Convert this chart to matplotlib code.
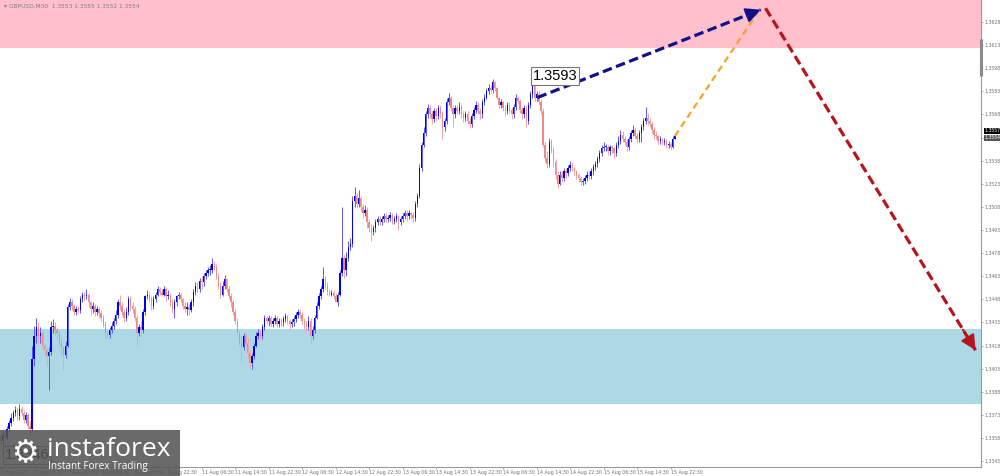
import numpy as np
import matplotlib
matplotlib.use("Agg")
import matplotlib.pyplot as plt
from matplotlib.patches import Rectangle
from matplotlib.transforms import blended_transform_factory

# GBPUSD M30 candles, prices written in pips: 3348 -> 1.3348
first_open_pips = 3359
close_pips = [
    3356, 3360, 3358, 3364, 3368, 3371, 3374, 3376, 3372, 3377, 3374, 3370, 3373, 3366, 3364,
    3409, 3424, 3430, 3424, 3426, 3418, 3415, 3411, 3414, 3430, 3431, 3428, 3426, 3420, 3417, 3412, 3418,
    3443, 3446, 3444, 3440, 3442, 3441, 3448, 3451, 3450, 3451, 3446, 3442, 3444, 3440, 3442, 3439,
    3436, 3432, 3426, 3425, 3428, 3431, 3434, 3438, 3446, 3444, 3440, 3436, 3440, 3448, 3444, 3442,
    3436, 3426, 3430, 3428, 3440, 3450, 3451, 3448, 3444, 3448, 3451, 3455, 3453, 3451, 3455, 3450,
    3451, 3446, 3442, 3446, 3450, 3451, 3448, 3444, 3442, 3443, 3441, 3446, 3453, 3457, 3455, 3460,
    3459, 3463, 3465, 3467, 3467, 3471, 3469, 3463, 3457, 3451, 3457, 3461, 3455, 3450, 3446, 3440,
    3434, 3426, 3420, 3417, 3424, 3420, 3413, 3407, 3411, 3418, 3424, 3426, 3424, 3430, 3436, 3434,
    3436, 3432, 3434, 3436, 3432, 3434, 3433, 3435, 3437, 3434, 3432, 3433, 3435, 3438, 3440, 3438,
    3434, 3432, 3430, 3434, 3424, 3428, 3436, 3444, 3450, 3455, 3461, 3457, 3453, 3451, 3452, 3450,
    3446, 3451, 3465, 3475, 3467, 3475, 3482, 3484, 3512, 3515, 3510, 3514, 3508, 3504, 3506, 3498,
    3494, 3492, 3494, 3498, 3500, 3498, 3500, 3502, 3500, 3501, 3503, 3499, 3500, 3502, 3498, 3500,
    3502, 3504, 3502, 3504, 3503, 3501,
    3510, 3515, 3533, 3548, 3556, 3568, 3572, 3568, 3565, 3570, 3567, 3572, 3568, 3560, 3564, 3576,
    3579, 3572, 3568, 3572, 3570, 3573, 3568, 3566, 3568, 3564, 3562, 3567, 3571, 3574, 3570, 3568,
    3576, 3579, 3583, 3585, 3584, 3589, 3585, 3579, 3574, 3576, 3572, 3570, 3574, 3571, 3568, 3573,
    3579, 3577, 3571, 3568, 3572, 3564, 3574, 3581, 3587, 3579, 3581, 3576, 3570, 3548, 3540, 3536,
    3550, 3545, 3537, 3529, 3523, 3529, 3527, 3531, 3530, 3533, 3535, 3533, 3531, 3529, 3527, 3524,
    3525, 3527, 3529, 3528, 3531, 3534, 3536, 3539, 3543, 3546, 3547, 3547, 3544, 3547, 3546, 3543,
    3548, 3551, 3555, 3552, 3550, 3547, 3552, 3556, 3558, 3554, 3552, 3556, 3560, 3564, 3566, 3564,
    3562, 3558, 3555, 3554, 3551, 3552, 3550, 3551, 3548, 3549, 3547, 3552, 3554,
]
high_pips = [
    3361, 3362, 3363, 3366, 3370, 3374, 3376, 3379, 3378, 3380, 3379, 3376, 3375, 3374, 3369,
    3418, 3431, 3436, 3433, 3430, 3428, 3420, 3417, 3417, 3434, 3435, 3433, 3430, 3428, 3422, 3418, 3421,
    3445, 3449, 3448, 3445, 3444, 3444, 3450, 3453, 3453, 3455, 3452, 3447, 3446, 3445, 3444, 3443,
    3441, 3438, 3434, 3429, 3430, 3433, 3436, 3441, 3448, 3451, 3446, 3442, 3443, 3450, 3450, 3446,
    3444, 3438, 3432, 3434, 3442, 3451, 3454, 3453, 3450, 3450, 3453, 3457, 3456, 3455, 3457, 3456,
    3454, 3452, 3448, 3448, 3451, 3453, 3452, 3449, 3446, 3446, 3445, 3448, 3455, 3459, 3459, 3462,
    3463, 3465, 3467, 3469, 3470, 3475, 3473, 3471, 3465, 3459, 3460, 3464, 3462, 3457, 3452, 3448,
    3442, 3436, 3429, 3424, 3426, 3426, 3423, 3415, 3413, 3420, 3427, 3429, 3428, 3432, 3438, 3437,
    3438, 3437, 3436, 3438, 3437, 3436, 3436, 3437, 3439, 3438, 3435, 3435, 3437, 3440, 3442, 3442,
    3440, 3436, 3434, 3437, 3436, 3431, 3438, 3446, 3452, 3457, 3469, 3463, 3459, 3455, 3454, 3454,
    3452, 3453, 3467, 3508, 3477, 3479, 3486, 3488, 3515, 3521, 3517, 3519, 3515, 3510, 3509, 3508,
    3500, 3497, 3496, 3500, 3502, 3502, 3502, 3504, 3504, 3503, 3505, 3504, 3502, 3504, 3503, 3502,
    3504, 3506, 3506, 3506, 3505, 3505,
    3512, 3517, 3536, 3550, 3560, 3570, 3575, 3574, 3570, 3572, 3572, 3574, 3574, 3570, 3566, 3579,
    3582, 3580, 3574, 3574, 3574, 3576, 3575, 3570, 3570, 3570, 3566, 3569, 3573, 3577, 3576, 3572,
    3578, 3581, 3585, 3588, 3587, 3591, 3590, 3586, 3580, 3578, 3577, 3574, 3576, 3576, 3572, 3575,
    3581, 3580, 3578, 3573, 3574, 3574, 3576, 3583, 3593, 3589, 3583, 3583, 3578, 3572, 3550, 3544,
    3553, 3552, 3547, 3539, 3531, 3531, 3531, 3533, 3533, 3535, 3538, 3537, 3534, 3532, 3530, 3528,
    3527, 3529, 3531, 3531, 3533, 3536, 3538, 3541, 3545, 3548, 3550, 3549, 3548, 3548, 3548, 3547,
    3550, 3554, 3558, 3557, 3554, 3552, 3554, 3558, 3561, 3560, 3556, 3558, 3562, 3566, 3573, 3569,
    3566, 3564, 3560, 3557, 3555, 3554, 3553, 3553, 3552, 3551, 3550, 3554, 3555,
]
low_pips = [
    3354, 3346, 3356, 3357, 3362, 3366, 3369, 3372, 3370, 3370, 3372, 3368, 3368, 3364, 3360,
    3362, 3405, 3420, 3420, 3420, 3415, 3411, 3405, 3389, 3412, 3426, 3424, 3422, 3417, 3411, 3402, 3410,
    3417, 3441, 3441, 3438, 3438, 3439, 3439, 3446, 3447, 3448, 3443, 3438, 3439, 3437, 3438, 3436,
    3434, 3430, 3423, 3422, 3423, 3426, 3429, 3432, 3436, 3441, 3438, 3433, 3434, 3438, 3441, 3439,
    3434, 3418, 3424, 3424, 3426, 3438, 3448, 3446, 3441, 3442, 3446, 3450, 3451, 3450, 3450, 3447,
    3448, 3444, 3439, 3436, 3444, 3448, 3446, 3442, 3440, 3438, 3438, 3440, 3444, 3451, 3453, 3453,
    3455, 3457, 3461, 3463, 3464, 3465, 3467, 3461, 3455, 3449, 3450, 3455, 3453, 3448, 3443, 3438,
    3432, 3424, 3418, 3408, 3415, 3418, 3410, 3404, 3403, 3409, 3417, 3422, 3421, 3422, 3428, 3432,
    3431, 3430, 3430, 3432, 3430, 3430, 3431, 3431, 3433, 3432, 3428, 3430, 3431, 3433, 3436, 3436,
    3432, 3429, 3426, 3428, 3420, 3422, 3426, 3435, 3442, 3448, 3453, 3455, 3451, 3450, 3450, 3448,
    3446, 3444, 3450, 3463, 3462, 3463, 3473, 3480, 3482, 3508, 3507, 3508, 3505, 3501, 3502, 3494,
    3492, 3486, 3490, 3492, 3496, 3496, 3496, 3498, 3498, 3498, 3499, 3497, 3497, 3498, 3493, 3496,
    3498, 3500, 3499, 3500, 3500, 3498,
    3499, 3508, 3514, 3531, 3547, 3554, 3566, 3566, 3562, 3563, 3564, 3565, 3566, 3552, 3557, 3562,
    3574, 3570, 3560, 3566, 3568, 3568, 3566, 3563, 3564, 3562, 3559, 3560, 3565, 3569, 3568, 3565,
    3566, 3574, 3578, 3581, 3582, 3582, 3583, 3578, 3572, 3572, 3570, 3567, 3568, 3569, 3565, 3566,
    3571, 3575, 3569, 3565, 3566, 3560, 3562, 3572, 3579, 3577, 3577, 3574, 3568, 3547, 3537, 3533,
    3534, 3543, 3534, 3526, 3520, 3522, 3524, 3525, 3527, 3528, 3531, 3531, 3529, 3526, 3524, 3522,
    3522, 3523, 3525, 3526, 3526, 3529, 3532, 3534, 3537, 3541, 3544, 3544, 3542, 3542, 3543, 3540,
    3541, 3546, 3549, 3550, 3548, 3544, 3545, 3550, 3554, 3552, 3550, 3550, 3550, 3558, 3562, 3561,
    3560, 3556, 3552, 3552, 3549, 3549, 3548, 3548, 3546, 3546, 3545, 3546, 3552,
]

time_labels = ["7 Aug 2025", "7 Aug 14:30", "7 Aug 22:30", "8 Aug 06:30", "8 Aug 14:30",
               "8 Aug 22:30", "11 Aug 06:30", "11 Aug 14:30", "11 Aug 22:30", "12 Aug 06:30",
               "12 Aug 14:30", "12 Aug 22:30", "13 Aug 06:30", "13 Aug 14:30", "13 Aug 22:30",
               "14 Aug 06:30", "14 Aug 14:30", "14 Aug 22:30", "15 Aug 06:30", "15 Aug 14:30",
               "15 Aug 22:30"]
bars_per_label = 16

resistance_zone = [1.3611, 1.3660]
support_zone = [1.3380, 1.3429]

# expected wave path, (bar index, price)
wave_up_x, wave_up_y = [256.4, 363.0], [1.3579, 1.3636]
wave_link_x, wave_link_y = [322.0, 361.5], [1.3554, 1.3634]
wave_down_x, wave_down_y = [365.3, 465.6], [1.3637, 1.3415]

high_mark = (254.3, 1.3593)
low_mark = (2.0, 1.3347)
header = "GBPUSD,M30  1.3553 1.3555 1.3552 1.3554"
ask_price, bid_price = 1.3557, 1.3554

closes = 1 + np.array(close_pips) / 10000
highs = 1 + np.array(high_pips) / 10000
lows = 1 + np.array(low_pips) / 10000
opens = np.concatenate([[1 + first_open_pips / 10000], closes[:-1]])
highs = np.maximum(highs, np.maximum(opens, closes))
lows = np.minimum(lows, np.minimum(opens, closes))
idx = np.arange(len(closes))

fig = plt.figure(figsize=(10, 4.76), dpi=100)
ax = fig.add_axes([0, 9 / 476, 0.981, 467 / 476])
ax.set_xlim(-0.3, 468.2)
ax.set_ylim(1.33392, 1.36423)

ax.axhspan(resistance_zone[0], resistance_zone[1], color='pink', lw=0, zorder=0)
ax.axhspan(support_zone[0], support_zone[1], color='lightblue', lw=0, zorder=0)

up = closes >= opens
dn = ~up
body_lo = np.minimum(opens, closes)
body_h = np.maximum(np.abs(closes - opens), 0.00005)
ax.vlines(idx[up], lows[up], highs[up], color='#5a5aff', lw=0.7, zorder=2)
ax.vlines(idx[dn], lows[dn], highs[dn], color='#f4a3a3', lw=0.7, zorder=2)
ax.bar(idx[up], body_h[up], bottom=body_lo[up], width=0.65, color='#0000ee', lw=0, zorder=3)
ax.bar(idx[dn], body_h[dn], bottom=body_lo[dn], width=0.65, color='#f08888', lw=0, zorder=3)

# forecast arrows
ax.plot(wave_link_x, wave_link_y, color='#f7a12b', lw=1.6, dashes=(3, 2), zorder=4)
for wx, wy, col in [(wave_up_x, wave_up_y, '#10108a'), (wave_down_x, wave_down_y, '#b5161b')]:
    ax.plot(wx, wy, color=col, lw=2.3, dashes=(3, 1.4), zorder=5)
    tail = (wx[0] + 0.94 * (wx[1] - wx[0]), wy[0] + 0.94 * (wy[1] - wy[0]))
    ax.annotate('', xy=(wx[1], wy[1]), xytext=tail, zorder=6,
                arrowprops=dict(arrowstyle='-|>,head_length=0.9,head_width=0.45',
                                color=col, lw=1.5, shrinkA=0, shrinkB=0))

for mx, my in [high_mark, low_mark]:
    ax.text(mx, my, f'{my:.4f}' if my != low_mark[1] else '1.3346', family='Liberation Sans',
            fontsize=10.5, ha='left', va='center', zorder=7,
            bbox=dict(boxstyle='square,pad=0.12', fc='white', ec='#777777', lw=0.8))

# axes styling like the terminal
for s in ['left', 'top']:
    ax.spines[s].set_visible(False)
for s in ['right', 'bottom']:
    ax.spines[s].set_color('#9a9a9a')
    ax.spines[s].set_linewidth(0.8)
ax.yaxis.tick_right()
yt = np.round(1.3343 + 0.0015 * np.arange(20), 4)
ax.set_yticks(yt, [f'{v:.4f}' for v in yt])
ax.tick_params(axis='y', labelsize=3.3, labelcolor='#707070', color='#9a9a9a',
               length=1.5, width=0.6, pad=1.2)
xt = np.arange(len(time_labels)) * bars_per_label
ax.set_xticks(xt, time_labels)
ax.tick_params(axis='x', labelsize=3.4, labelcolor='#707070', color='#9a9a9a',
               length=1.5, width=0.6, pad=0.8)
for lab in ax.get_xticklabels():
    lab.set_horizontalalignment('left')

tr = blended_transform_factory(ax.transAxes, ax.transData)
ax.plot([1, 1], [1.3593, 1.3617], transform=tr, color='#8a8a8a', lw=2.2,
        clip_on=False, zorder=8, solid_capstyle='butt')

ax.text(1.004, ask_price + 0.00004, f'{ask_price:.4f}', transform=tr, fontsize=3.3,
        color='white', va='center', ha='left',
        bbox=dict(boxstyle='square,pad=0.12', fc='black', ec='none'))
ax.text(1.004, bid_price - 0.00010, f'{bid_price:.4f}', transform=tr, fontsize=3.3,
        color='white', va='center', ha='left',
        bbox=dict(boxstyle='square,pad=0.12', fc='#555555', ec='none'))

fig.text(0.004, 0.987, '\u25be ' + header, fontsize=4.2, color='#808080', va='center')

# watermark logo
fig.add_artist(Rectangle((0, 0), 0.18, 46 / 476, transform=fig.transFigure,
                         fc='#555555', alpha=0.88, lw=0, zorder=20))
fig.text(0.025, 0.048, '\u2699', fontsize=22, color='white', ha='center', va='center',
         family='DejaVu Sans', zorder=21)
fig.text(0.047, 0.055, 'instaforex', fontsize=19, color='white', va='center',
         family='Open Sans', zorder=21)
fig.text(0.048, 0.019, 'Instant Forex Trading', fontsize=7.2, color='white', va='center',
         family='Open Sans', zorder=21)

fig.savefig('out.png', dpi=100)
